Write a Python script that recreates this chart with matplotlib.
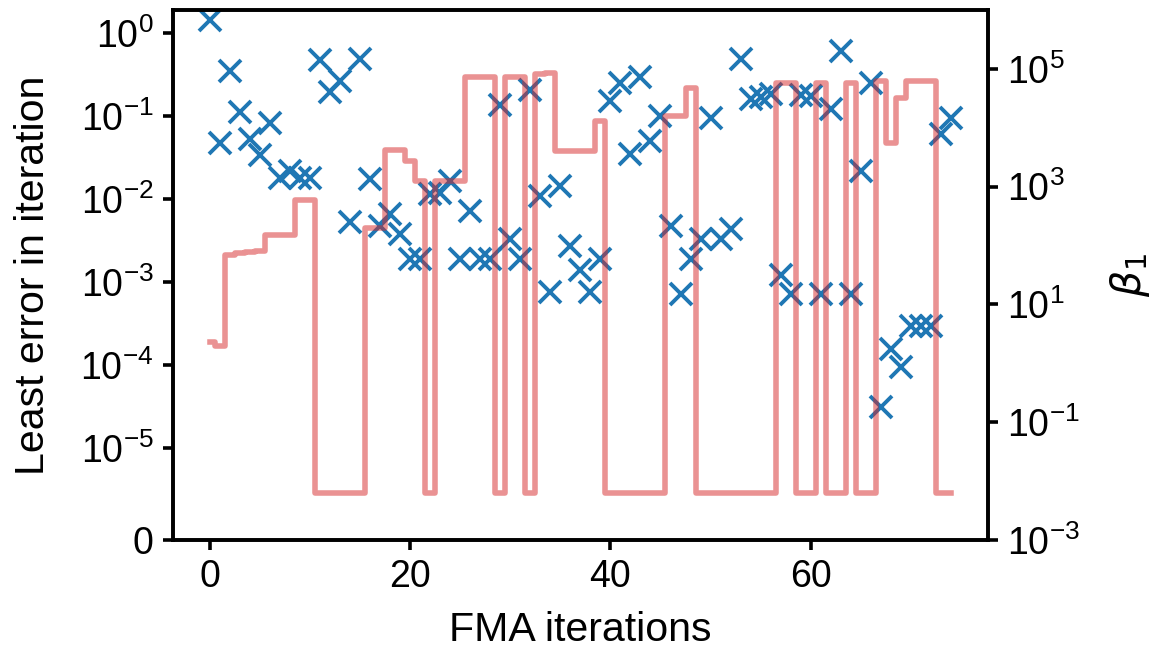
import numpy as np
import matplotlib
matplotlib.use('Agg')
import matplotlib.pyplot as plt
from matplotlib.ticker import NullLocator

# Data
iterations = np.arange(75)

# Least error in each FMA iteration (left axis, symlog)
least_error = [
    1.42, 0.047, 0.35, 0.112, 0.052, 0.0335, 0.083, 0.018, 0.0217, 0.018,
    0.018, 0.47, 0.193, 0.262, 0.0052, 0.48, 0.0173, 0.0047, 0.0065, 0.0038,
    0.0019, 0.0019, 0.0115, 0.0119, 0.0165, 0.0019, 0.0072, 0.0019, 0.0019, 0.134,
    0.0033, 0.0019, 0.204, 0.0109, 0.00075, 0.0143, 0.0027, 0.0014, 0.00075, 0.0019,
    0.151, 0.25, 0.0345, 0.296, 0.0498, 0.0995, 0.0047, 0.00072, 0.0019, 0.0033,
    0.095, 0.0033, 0.0043, 0.48, 0.16, 0.17, 0.185, 0.0012, 0.00072, 0.18,
    0.175, 0.00072, 0.12, 0.6, 0.00072, 0.0217, 0.25, 3.1e-5, 1.56e-4, 9.4e-5,
    2.9e-4, 2.9e-4, 2.9e-4, 0.06, 0.095,
]

# beta_1 per iteration (right axis, log)
beta1 = [
    2.34, 1.93, 70, 75, 77, 79, 152, 152, 152, 598,
    598, 0.0062, 0.0062, 0.0062, 0.0062, 0.0062, 198, 198, 4240, 4240,
    2680, 1225, 0.0062, 1225, 1225, 1225, 72800, 72800, 72800, 0.0062,
    73000, 73000, 0.0062, 80000, 85000, 4020, 4020, 4020, 4020, 13000,
    0.0062, 0.0062, 0.0062, 0.0062, 0.0062, 0.0062, 15900, 15900, 47400, 0.0062,
    0.0062, 0.0062, 0.0062, 0.0062, 0.0062, 0.0062, 0.0062, 57500, 57500, 0.0062,
    0.0062, 57500, 0.0062, 0.0062, 57500, 0.0062, 0.0062, 61400, 5500, 32000,
    61400, 61400, 61400, 0.0062, 0.0062,
]

left_ticks = [0, 1e-5, 1e-4, 1e-3, 1e-2, 1e-1, 1e0]
right_ticks = [1e-3, 1e-1, 1e1, 1e3, 1e5]


def main():
    plt.rcParams['font.family'] = ['Liberation Sans', 'DejaVu Sans']
    plt.rcParams['axes.linewidth'] = 1.3
    plt.rcParams['xtick.major.width'] = 1.3
    plt.rcParams['ytick.major.width'] = 1.3

    fig, ax = plt.subplots(figsize=(5.75, 3.265), dpi=200)
    fig.subplots_adjust(left=0.1504, right=0.859, bottom=0.173, top=0.985)

    ax.plot(iterations, least_error, 'x', color='tab:blue',
            markersize=8, markeredgewidth=1.4)
    ax.set_yscale('symlog', linthresh=1e-5)
    ax.set_ylim(0, 1.9)
    ax.set_yticks(left_ticks)
    ax.yaxis.set_minor_locator(NullLocator())
    ax.tick_params(labelsize=13.5)
    ax.set_xlabel('FMA iterations', fontsize=14.8, labelpad=5.5)
    ax.set_ylabel('Least error in iteration', fontsize=14.8, labelpad=10)

    ax2 = ax.twinx()
    ax2.plot(iterations, beta1, drawstyle='steps-mid', color='tab:red',
             alpha=0.5, linewidth=2.0)
    ax2.set_yscale('log')
    ax2.set_ylim(1e-3, 1e6)
    ax2.set_yticks(right_ticks)
    ax2.yaxis.set_minor_locator(NullLocator())
    ax2.tick_params(labelsize=13.5)
    ax2.set_ylabel(r'$\beta_1$', fontsize=14.8, labelpad=10)

    fig.savefig('out.png', dpi=200)


if __name__ == '__main__':
    main()
